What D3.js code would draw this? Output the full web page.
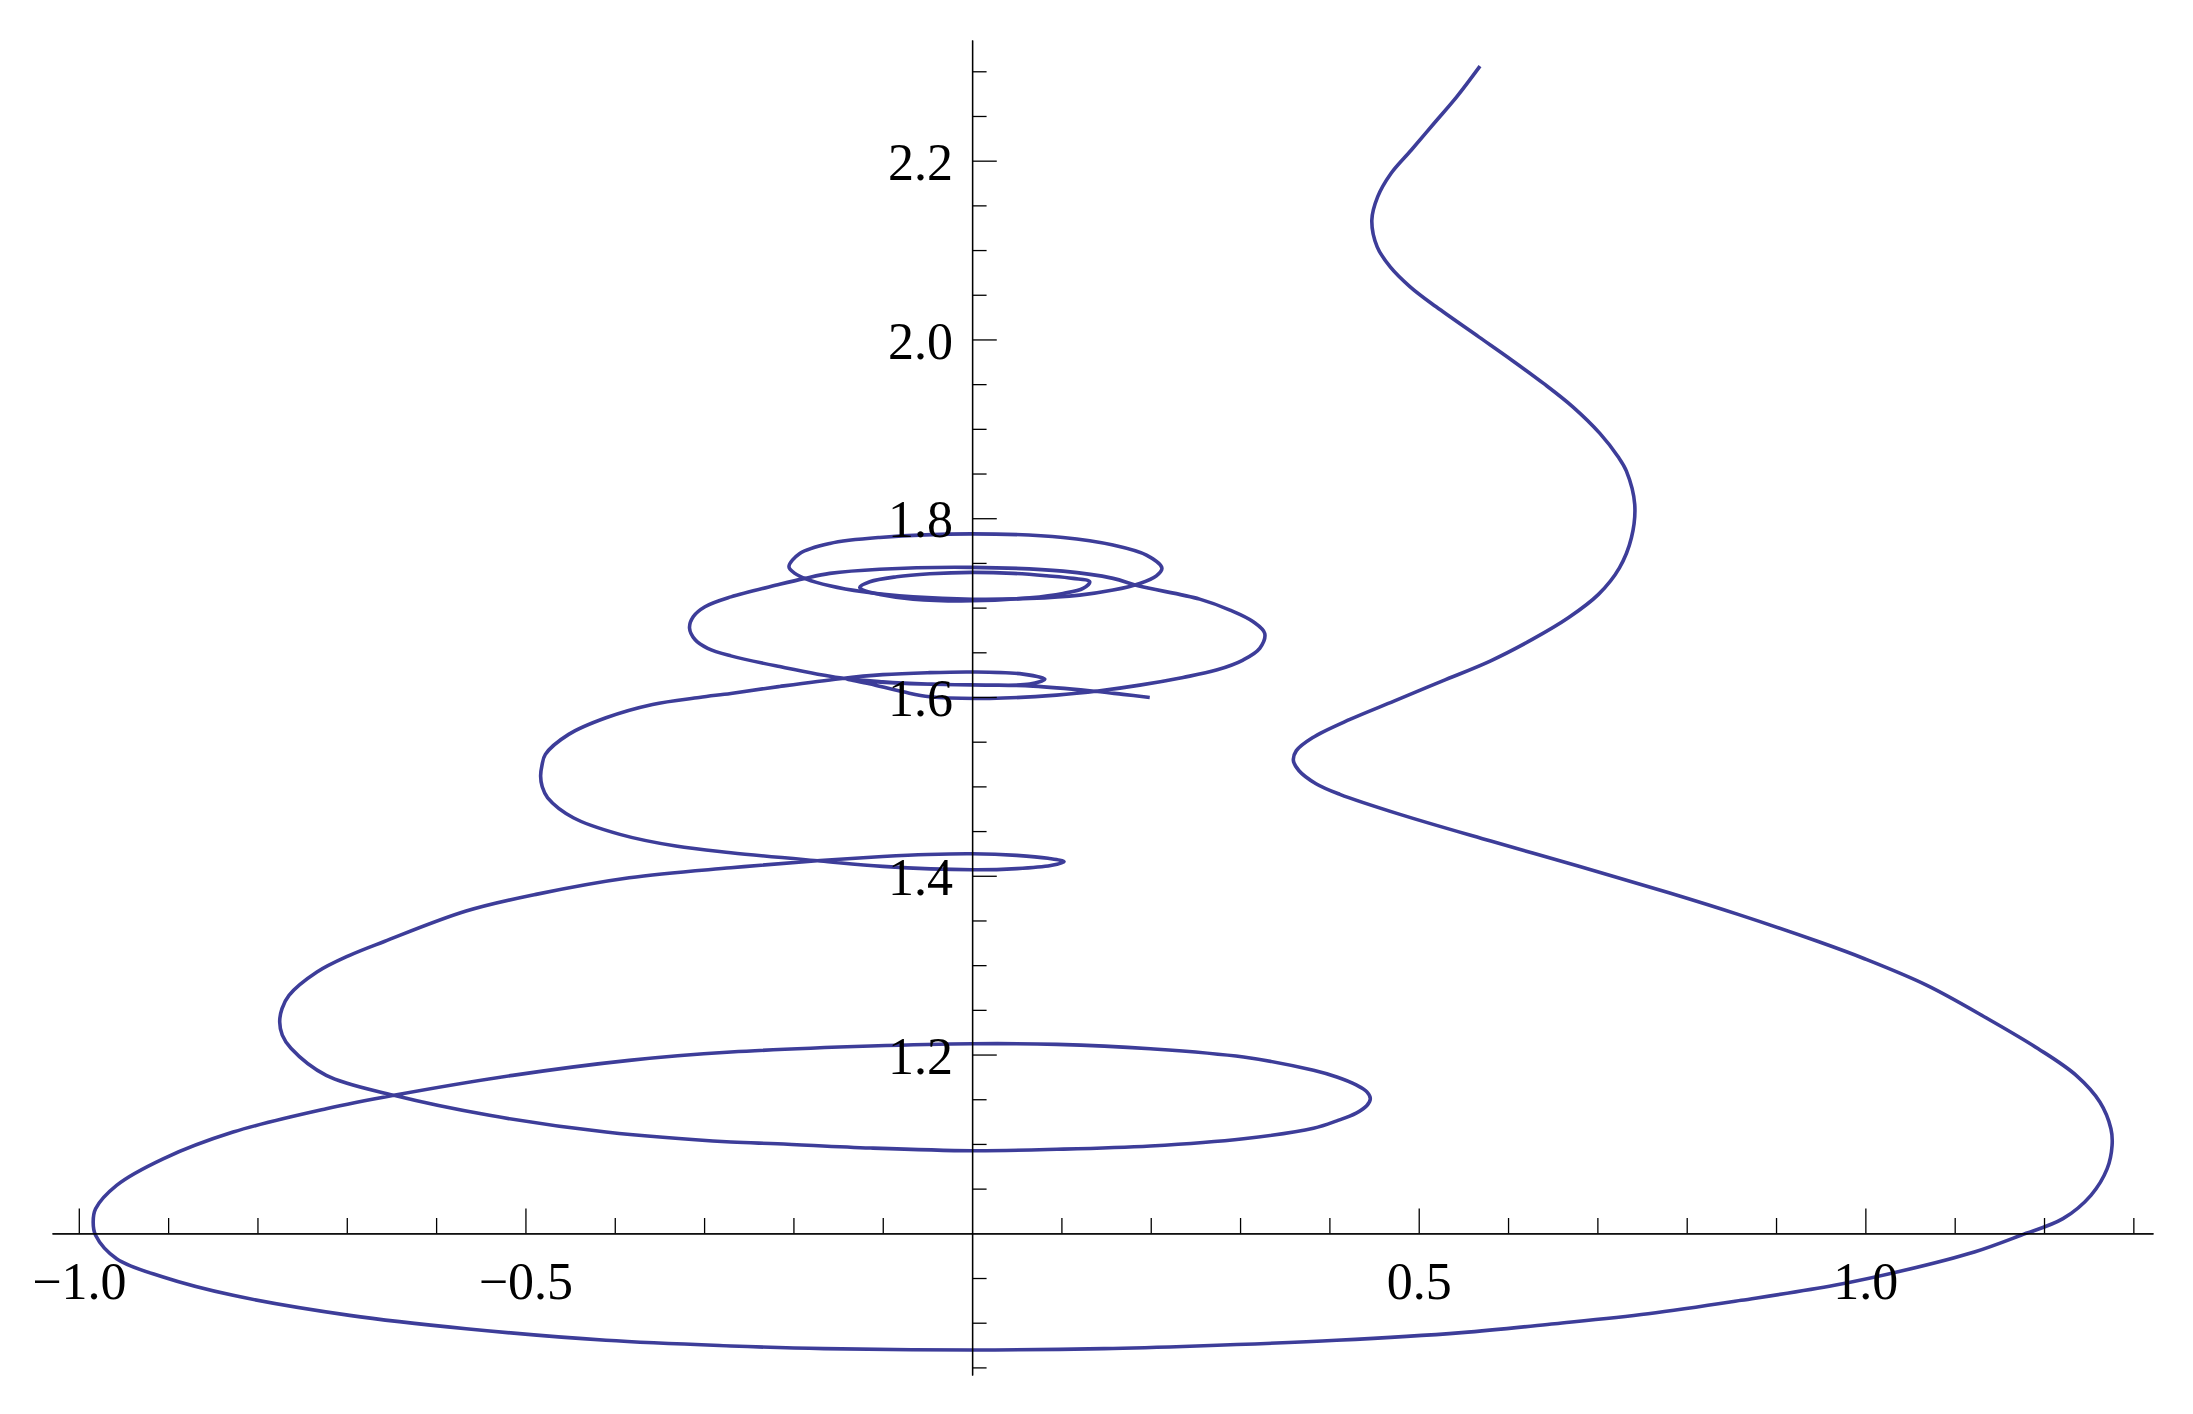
<!DOCTYPE html>
<html>
<head>
<meta charset="utf-8">
<script src="https://cdn.jsdelivr.net/npm/d3@7"></script>
<style>
  html, body { margin: 0; padding: 0; background: #ffffff; }
  svg { display: block; }
</style>
</head>
<body>
<svg id="chart" width="2193" height="1414"></svg>
<script>
// ---------------- data ----------------
const xMajorTicks = [-1.0, -0.5, 0.5, 1.0];
const xMinorTicks = [-0.9, -0.8, -0.7, -0.6, -0.4, -0.3, -0.2, -0.1, 0.1, 0.2, 0.3, 0.4, 0.6, 0.7, 0.8, 0.9, 1.1, 1.2, 1.3];
const yMajorTicks = [1.2, 1.4, 1.6, 1.8, 2.0, 2.2];
const yMinorTicks = [0.85, 0.9, 0.95, 1.05, 1.1, 1.15, 1.25, 1.3, 1.35, 1.45, 1.5, 1.55, 1.65, 1.7, 1.75, 1.85, 1.9, 1.95, 2.05, 2.1, 2.15, 2.25, 2.3];

// outer descending sweep: from the top-right start down to the bottom
const descentArc = [
  [0.5686, 2.3058], [0.5425, 2.2714], [0.5170, 2.2416], [0.4915, 2.2117], [0.4689, 2.1857],
  [0.4540, 2.1595], [0.4475, 2.1334], [0.4535, 2.1036], [0.4681, 2.0812], [0.4904, 2.0589],
  [0.5195, 2.0365], [0.5672, 2.0029], [0.6043, 1.9768], [0.6397, 1.9508], [0.6725, 1.9246],
  [0.7028, 1.8949], [0.7232, 1.8687], [0.7325, 1.8527], [0.7418, 1.8154], [0.7381, 1.7781],
  [0.7247, 1.7445], [0.7012, 1.7148], [0.6675, 1.6886], [0.6271, 1.6644], [0.5800, 1.6402],
  [0.5261, 1.6178], [0.4723, 1.5954], [0.4230, 1.5749], [0.3810, 1.5544], [0.3630, 1.5400],
  [0.3597, 1.5290], [0.3660, 1.5175], [0.3850, 1.5030], [0.4117, 1.4911], [0.4790, 1.4687],
  [0.5807, 1.4388], [0.6784, 1.4109], [0.7801, 1.3810], [0.8575, 1.3568], [0.9472, 1.3264],
  [0.9990, 1.3072], [1.0690, 1.2774], [1.1370, 1.2401], [1.1935, 1.2065], [1.2360, 1.1767],
  [1.2625, 1.1469], [1.2749, 1.1170], [1.2762, 1.0984], [1.2707, 1.0723], [1.2525, 1.0425],
  [1.2212, 1.0164], [1.1741, 0.9978], [1.1220, 0.9791], [1.0437, 0.9586], [0.9654, 0.9418],
  [0.8611, 0.9251], [0.7568, 0.9101], [0.6524, 0.8989], [0.5481, 0.8889]
];

// bottom coil: under the axis, leftmost tip, first ellipse, up to the 1.24 tip
const baseCoil = [
  [0.4080, 0.8803], [0.2517, 0.8740], [0.1474, 0.8710], [0.0000, 0.8695], [-0.1657, 0.8710],
  [-0.2700, 0.8740], [-0.4098, 0.8803], [-0.5664, 0.8933], [-0.6968, 0.9082], [-0.8273, 0.9306],
  [-0.9056, 0.9511], [-0.9577, 0.9716], [-0.9812, 0.9978], [-0.9839, 1.0127], [-0.9812, 1.0275],
  [-0.9577, 1.0537], [-0.9056, 1.0834], [-0.8273, 1.1133], [-0.7230, 1.1394], [-0.6473, 1.1544],
  [-0.5143, 1.1767], [-0.3838, 1.1935], [-0.2700, 1.2028], [-0.1135, 1.2095], [0.0000, 1.2121],
  [0.0951, 1.2114], [0.1996, 1.2065], [0.3039, 1.1972], [0.3822, 1.1823], [0.4083, 1.1748],
  [0.4300, 1.1660], [0.4420, 1.1582], [0.4458, 1.1506], [0.4420, 1.1430], [0.4300, 1.1345],
  [0.4083, 1.1258], [0.3822, 1.1175], [0.3039, 1.1058], [0.1996, 1.0977], [0.0951, 1.0940],
  [0.0000, 1.0924], [-0.1135, 1.0954], [-0.2179, 1.1002], [-0.2700, 1.1021], [-0.4098, 1.1133],
  [-0.5403, 1.1320], [-0.6473, 1.1544], [-0.7230, 1.1767], [-0.7625, 1.2070], [-0.7722, 1.2218],
  [-0.7751, 1.2364], [-0.7725, 1.2514], [-0.7647, 1.2662], [-0.7334, 1.2923], [-0.6968, 1.3110],
  [-0.6580, 1.3265]
];

// middle coil: the flat 1.41 loop, the 1.52 loop, up to the 1.6 crossing
const midCoil = [
  [-0.5664, 1.3605], [-0.4882, 1.3792], [-0.3838, 1.3978], [-0.2700, 1.4090], [-0.1700, 1.4170],
  [-0.1000, 1.4215], [-0.0500, 1.4238], [0.0000, 1.4246], [0.0500, 1.4228], [0.0850, 1.4195],
  [0.1030, 1.4157], [0.0880, 1.4115], [0.0500, 1.4080], [0.0000, 1.4067], [-0.1000, 1.4105],
  [-0.1700, 1.4165], [-0.2700, 1.4258], [-0.3316, 1.4332], [-0.3943, 1.4463], [-0.4464, 1.4649],
  [-0.4751, 1.4872], [-0.4812, 1.4995], [-0.4830, 1.5115], [-0.4815, 1.5235], [-0.4777, 1.5358],
  [-0.4516, 1.5582], [-0.4098, 1.5768], [-0.3577, 1.5917], [-0.3055, 1.5995], [-0.2700, 1.6040]
];

// upper coil: small 1.62 loop, the 1.68 loop, and the end of the curve
const upperCoil = [
  [-0.2154, 1.6118], [-0.1480, 1.6205], [-0.1000, 1.6250], [-0.0500, 1.6272], [0.0000, 1.6280],
  [0.0571, 1.6256], [0.0814, 1.6200], [0.0646, 1.6144], [0.0200, 1.6133], [-0.0500, 1.6145],
  [-0.1000, 1.6170], [-0.1480, 1.6215], [-0.2154, 1.6340], [-0.2700, 1.6460], [-0.2960, 1.6545],
  [-0.3100, 1.6640], [-0.3163, 1.6770], [-0.3120, 1.6900], [-0.2990, 1.7010], [-0.2700, 1.7120],
  [-0.2154, 1.7260], [-0.1872, 1.7327], [-0.1593, 1.7383], [-0.1034, 1.7430], [0.0000, 1.7450],
  [0.1018, 1.7408], [0.1578, 1.7327], [0.1858, 1.7244], [0.2548, 1.7095], [0.2887, 1.6972],
  [0.3148, 1.6841], [0.3276, 1.6711], [0.3220, 1.6544], [0.3033, 1.6413], [0.2735, 1.6301],
  [0.2362, 1.6219], [0.1877, 1.6133], [0.1429, 1.6070], [0.0945, 1.6021], [0.0198, 1.5984],
  [-0.0473, 1.6002], [-0.0772, 1.6058], [-0.1150, 1.6148], [-0.1420, 1.6205], [-0.1200, 1.6180],
  [-0.0800, 1.6155], [-0.0300, 1.6140], [0.0200, 1.6135], [0.0683, 1.6122], [0.1317, 1.6070],
  [0.1690, 1.6029], [0.1989, 1.5995]
];

// the two nested loops around 1.75
const crownLoop = [
  [-0.2050, 1.7457], [-0.1929, 1.7606], [-0.1593, 1.7718], [-0.1034, 1.7785], [0.0000, 1.7825],
  [0.1018, 1.7785], [0.1578, 1.7700], [0.1952, 1.7587], [0.2125, 1.7442], [0.2063, 1.7356],
  [0.1877, 1.7270], [0.1578, 1.7196], [0.1205, 1.7140], [0.0646, 1.7103], [0.0000, 1.7094],
  [-0.0660, 1.7121], [-0.1220, 1.7177], [-0.1593, 1.7244], [-0.1854, 1.7319], [-0.1984, 1.7383]
];
const innerLoop = [
  [-0.1257, 1.7226], [-0.1145, 1.7289], [-0.0846, 1.7345], [-0.0473, 1.7378], [0.0000, 1.7394],
  [0.0459, 1.7383], [0.0833, 1.7356], [0.1130, 1.7327], [0.1317, 1.7289], [0.1242, 1.7215],
  [0.1018, 1.7159], [0.0646, 1.7110], [0.0000, 1.7076], [-0.0660, 1.7095], [-0.1033, 1.7148],
  [-0.1220, 1.7196]
];

// ---------------- drawing ----------------
const svg = d3.select("#chart");
svg.append("rect").attr("width", 2193).attr("height", 1414).attr("fill", "#ffffff");

const x = d3.scaleLinear().domain([-1.03, 1.322]).range([52, 2153]);
const y = d3.scaleLinear().domain([0.8415, 2.335]).range([1375, 40]);

const curveColor = "#3d3d99";
const strokeW = 3.6;
const lineGen = d3.line().x(d => x(d[0])).y(d => y(d[1])).curve(d3.curveCatmullRom.alpha(0.5));
const loopGen = d3.line().x(d => x(d[0])).y(d => y(d[1])).curve(d3.curveCatmullRomClosed.alpha(0.5));

const mainPath = descentArc.concat(baseCoil, midCoil, upperCoil);
const plot = svg.append("g");
plot.append("path").datum(mainPath).attr("d", lineGen)
  .attr("fill", "none").attr("stroke", curveColor).attr("stroke-width", strokeW)
  .attr("stroke-linejoin", "round").attr("stroke-linecap", "butt");
[crownLoop, innerLoop].forEach(loop => {
  plot.append("path").datum(loop).attr("d", loopGen)
    .attr("fill", "none").attr("stroke", curveColor).attr("stroke-width", strokeW)
    .attr("stroke-linejoin", "round");
});

const fmt = d3.format(".1f");
const fontFamily = "'Liberation Serif', 'Times New Roman', serif";

// x axis (at y = 1)
const xg = svg.append("g").attr("transform", `translate(0,${y(1)})`);
xg.append("g").call(d3.axisBottom(x).tickValues(xMinorTicks).tickSizeInner(-15.3).tickSizeOuter(0).tickFormat(""));
xg.append("g").call(d3.axisBottom(x).tickValues(xMajorTicks).tickSizeInner(-24.7).tickSizeOuter(0).tickPadding(29).tickFormat(fmt));

// y axis (at x = 0)
const yg = svg.append("g").attr("transform", `translate(${x(0)},0)`);
yg.append("g").call(d3.axisLeft(y).tickValues(yMinorTicks).tickSizeInner(-14.5).tickSizeOuter(0).tickFormat(""));
yg.append("g").call(d3.axisLeft(y).tickValues(yMajorTicks).tickSizeInner(-24.7).tickSizeOuter(0).tickPadding(19).tickFormat(fmt));

svg.selectAll(".domain").attr("stroke", "#000").attr("stroke-width", 1.3);
svg.selectAll(".tick line").attr("stroke", "#000").attr("stroke-width", 1.3);
svg.selectAll(".tick text").attr("font-family", fontFamily).attr("font-size", 52).attr("fill", "#000");
yg.selectAll(".tick text").attr("dy", "0.36em");
</script>
</body>
</html>
